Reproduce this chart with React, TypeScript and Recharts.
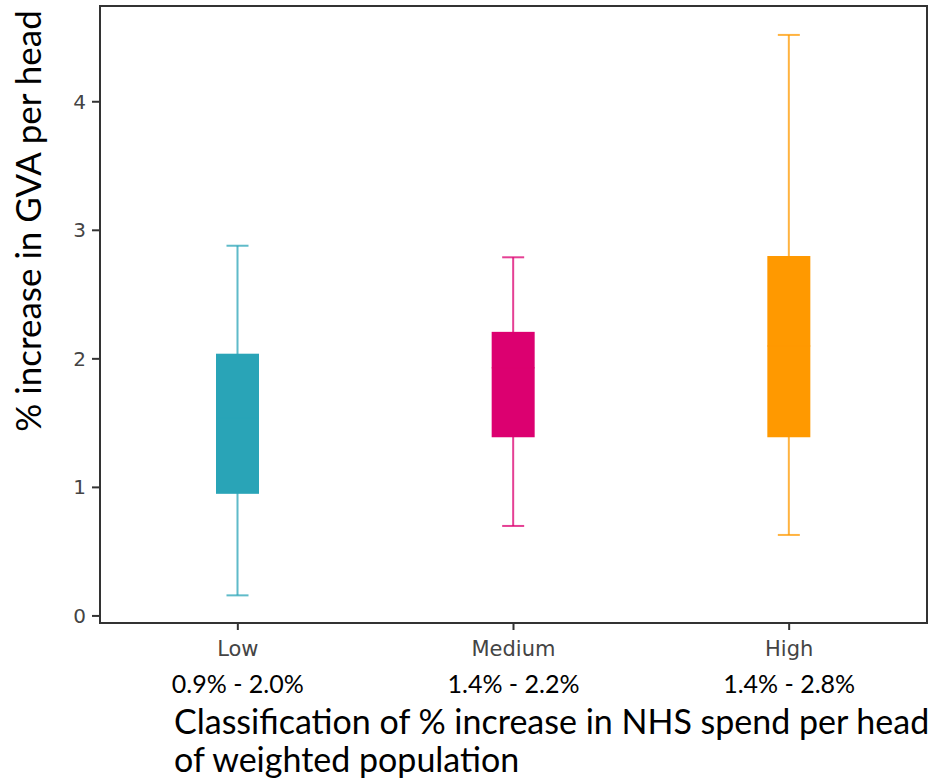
import { ComposedChart, Bar, XAxis, YAxis, ReferenceArea } from 'recharts';

const categories = ['Low', 'Medium', 'High'];
const rangeLabels = ['0.9% - 2.0%', '1.4% - 2.2%', '1.4% - 2.8%'];
const whiskerLow = [0.16, 0.7, 0.63];
const quartile1 = [0.95, 1.39, 1.39];
const medians = [1.54, 1.93, 2.1];
const quartile3 = [2.04, 2.21, 2.8];
const whiskerHigh = [2.88, 2.79, 4.52];
const yTicks = [0, 1, 2, 3, 4];
const yDomain = [-0.055, 4.745];
const colors = ['#29a4b7', '#dc0070', '#ff9900'];

const data = categories.map((name, i) => ({
  name,
  span: [whiskerLow[i], whiskerHigh[i]],
  min: whiskerLow[i],
  q1: quartile1[i],
  median: medians[i],
  q3: quartile3[i],
  max: whiskerHigh[i],
  color: colors[i],
}));

const LABEL_FONT = 'Lato, "Open Sans", sans-serif';

function BoxShape(props: any) {
  const { x, y, width, height, payload } = props;
  const { min, max, q1, median, q3, color } = payload;
  const top = Math.min(y, y + height);
  const h = Math.abs(height);
  const toY = (v: number) => top + ((max - v) / (max - min)) * h;
  const cx = x + width / 2;
  const cap = 11;
  return (
    <g>
      <line x1={cx} x2={cx} y1={toY(max)} y2={toY(min)} stroke={color} strokeOpacity={0.75} strokeWidth={2} />
      <line x1={cx - cap} x2={cx + cap} y1={toY(max)} y2={toY(max)} stroke={color} strokeOpacity={0.75} strokeWidth={2} />
      <line x1={cx - cap} x2={cx + cap} y1={toY(min)} y2={toY(min)} stroke={color} strokeOpacity={0.75} strokeWidth={2} />
      <rect x={x} y={toY(q3)} width={width} height={toY(q1) - toY(q3)} fill={color} />
      <line x1={x} x2={x + width} y1={toY(median)} y2={toY(median)} stroke={color} strokeWidth={1} />
    </g>
  );
}

function CategoryTick({ x, y, payload, index }: any) {
  return (
    <g>
      <text x={x} y={y + 24} textAnchor="middle" fontFamily="DejaVu Sans" fontSize={21} fill="#444">
        {payload.value}
      </text>
      <text x={x} y={y + 61} textAnchor="middle" fontFamily={LABEL_FONT} fontSize={25} fill="#000">
        {rangeLabels[index]}
      </text>
    </g>
  );
}

export default function App() {
  return (
    <div style={{ position: 'fixed', left: 0, top: 0, width: 937, height: 784, background: '#fff' }}>
      <ComposedChart
        width={937}
        height={784}
        data={data}
        margin={{ top: 6, right: 10, bottom: 101, left: 40 }}
      >
        <ReferenceArea y1={yDomain[0]} y2={yDomain[1]} fill="none" stroke="#333" strokeWidth={2} fillOpacity={0} />
        <XAxis
          dataKey="name"
          height={60}
          tick={<CategoryTick />}
          tickSize={7}
          tickMargin={2}
          interval={0}
          stroke="#333"
          strokeWidth={2}
        />
        <YAxis
          domain={yDomain}
          ticks={yTicks}
          width={60}
          tickSize={8}
          tickMargin={6}
          stroke="#333"
          strokeWidth={2}
          tick={{ fontFamily: 'DejaVu Sans', fontSize: 20, fill: '#444' }}
        />
        <Bar dataKey="span" barSize={43} shape={<BoxShape />} isAnimationActive={false} />
      </ComposedChart>
      <svg width={937} height={784} style={{ position: 'absolute', left: 0, top: 0, pointerEvents: 'none' }}>
        <text
          transform="translate(41, 221) rotate(-90)"
          textAnchor="middle"
          fontFamily={LABEL_FONT}
          fontSize={35}
          fill="#000"
        >
          % increase in GVA per head
        </text>
        <text x={174} y={734} fontFamily={LABEL_FONT} fontSize={34} fill="#000">
          Classification of % increase in NHS spend per head
        </text>
        <text x={174} y={772} fontFamily={LABEL_FONT} fontSize={34} fill="#000">
          of weighted population
        </text>
      </svg>
    </div>
  );
}
